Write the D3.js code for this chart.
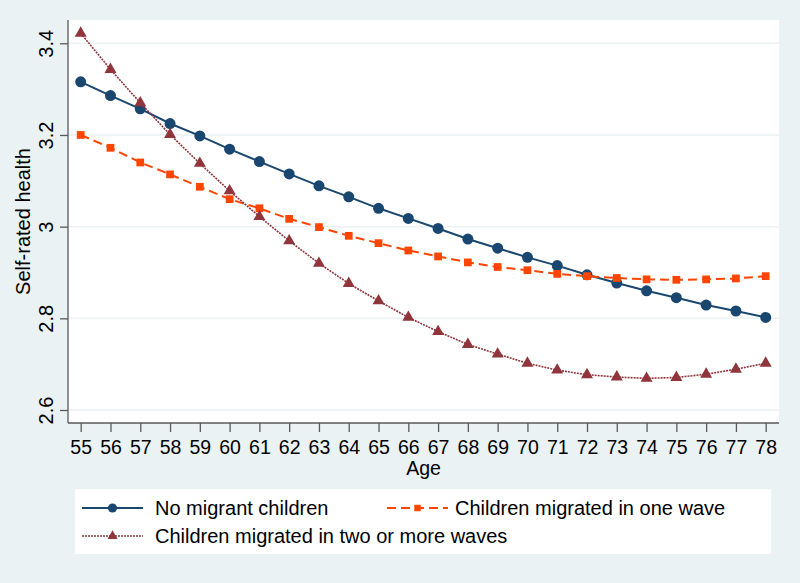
<!DOCTYPE html>
<html>
<head>
<meta charset="utf-8">
<script src="https://cdn.jsdelivr.net/npm/d3@7"></script>
<style>
  html, body { margin: 0; padding: 0; background: #eaf2f3; }
  svg { display: block; font-family: "Liberation Sans", Arial, sans-serif; }
</style>
</head>
<body>
<svg id="chart" width="800" height="583"></svg>
<script>
const ages = [55,56,57,58,59,60,61,62,63,64,65,66,67,68,69,70,71,72,73,74,75,76,77,78];
const noMigrant = [3.316,3.286,3.257,3.225,3.198,3.169,3.142,3.115,3.089,3.065,3.040,3.018,2.996,2.973,2.953,2.933,2.915,2.895,2.877,2.860,2.845,2.829,2.816,2.802];
const oneWave = [3.200,3.172,3.140,3.114,3.087,3.060,3.040,3.017,2.999,2.980,2.964,2.948,2.935,2.922,2.912,2.905,2.897,2.892,2.888,2.885,2.884,2.885,2.887,2.892];
const twoWaves = [3.422,3.343,3.270,3.201,3.138,3.078,3.022,2.969,2.920,2.876,2.838,2.802,2.771,2.743,2.722,2.702,2.687,2.677,2.672,2.669,2.671,2.678,2.689,2.702];
const yTicks = [2.6, 2.8, 3.0, 3.2, 3.4];
const yTickLabels = ["2.6", "2.8", "3", "3.2", "3.4"];
const seriesNames = ["No migrant children", "Children migrated in one wave", "Children migrated in two or more waves"];

const series = [
  {name: seriesNames[0], values: noMigrant, color: "#1a476f", width: 2, dash: null, marker: "circle"},
  {name: seriesNames[1], values: oneWave, color: "#ff4500", width: 2, dash: "9,5", marker: "square"},
  {name: seriesNames[2], values: twoWaves, color: "#90353b", width: 1.6, dash: "2,1", marker: "triangle"}
];

const svg = d3.select("#chart");
const W = 800, H = 583;
svg.append("rect").attr("width", W).attr("height", H).attr("fill", "#eaf2f3");

const plot = {left: 68, right: 779, top: 20, bottom: 423};
svg.append("rect").attr("x", plot.left).attr("y", plot.top)
  .attr("width", plot.right - plot.left).attr("height", plot.bottom - plot.top).attr("fill", "#ffffff");

const x = d3.scaleLinear().domain([55, 78]).range([80.7, 765.7]);
const y = d3.scaleLinear().domain([2.6, 3.4]).range([410, 43.3]);

// gridlines
svg.append("g").selectAll("line").data(yTicks).join("line")
  .attr("x1", plot.left).attr("x2", plot.right)
  .attr("y1", d => y(d)).attr("y2", d => y(d))
  .attr("stroke", "#eaf2f3").attr("stroke-width", 1.5);

// y axis
const yAxis = d3.axisLeft(y).tickValues(yTicks).tickSize(8).tickPadding(6)
  .tickFormat((d, i) => yTickLabels[i]);
const gy = svg.append("g").attr("transform", `translate(${plot.left},0)`).call(yAxis);
gy.select(".domain").attr("d", `M0,${plot.top}V${plot.bottom}`).attr("stroke", "#5a5a5a").attr("stroke-width", 1.3);
gy.selectAll(".tick line").attr("stroke", "#5a5a5a").attr("stroke-width", 1.3);
gy.selectAll(".tick text")
  .attr("font-size", 20).attr("fill", "#000")
  .attr("transform", "rotate(-90)")
  .attr("x", 0).attr("y", -15)
  .attr("dy", 0)
  .attr("text-anchor", "middle");

// x axis
const xAxis = d3.axisBottom(x).tickValues(ages).tickSize(9).tickPadding(4).tickFormat(d3.format("d"));
const gx = svg.append("g").attr("transform", `translate(0,${plot.bottom})`).call(xAxis);
gx.select(".domain").attr("d", `M${plot.left},0H${plot.right}`).attr("stroke", "#5a5a5a").attr("stroke-width", 1.3);
gx.selectAll(".tick line").attr("stroke", "#5a5a5a").attr("stroke-width", 1.3);
gx.selectAll(".tick text").attr("font-size", 19.5).attr("fill", "#000").attr("dy", 0).attr("y", 31);

// axis titles
svg.append("text").attr("transform", `translate(30,${(plot.top + plot.bottom) / 2}) rotate(-90)`)
  .attr("text-anchor", "middle").attr("font-size", 20).attr("fill", "#000").text("Self-rated health");
svg.append("text").attr("x", (plot.left + plot.right) / 2).attr("y", 475)
  .attr("text-anchor", "middle").attr("font-size", 19.5).attr("fill", "#000").text("Age");

// markers
const sym = {circle: d3.symbolCircle, square: d3.symbolSquare, triangle: d3.symbolTriangle};
const symSize = {circle: 95, square: 60, triangle: 62};

const line = d3.line().x((d, i) => x(ages[i])).y(d => y(d));
series.forEach(s => {
  const g = svg.append("g");
  g.append("path").attr("d", line(s.values)).attr("fill", "none")
    .attr("stroke", s.color).attr("stroke-width", s.width)
    .attr("stroke-dasharray", s.dash);
  g.selectAll("path.m").data(s.values).join("path").attr("class", "m")
    .attr("transform", (d, i) => `translate(${x(ages[i])},${y(d)})`)
    .attr("d", d3.symbol().type(sym[s.marker]).size(symSize[s.marker]))
    .attr("fill", s.color);
});

// legend
const leg = svg.append("g");
leg.append("rect").attr("x", 75).attr("y", 489).attr("width", 696).attr("height", 65).attr("fill", "#ffffff");
const legPos = [
  {x1: 82, x2: 143, y: 508, tx: 155},
  {x1: 387, x2: 448, y: 508, tx: 455},
  {x1: 82, x2: 143, y: 536, tx: 155}
];
series.forEach((s, i) => {
  const p = legPos[i];
  leg.append("line").attr("x1", p.x1).attr("x2", p.x2).attr("y1", p.y).attr("y2", p.y)
    .attr("stroke", s.color).attr("stroke-width", s.width).attr("stroke-dasharray", s.dash);
  leg.append("path").attr("transform", `translate(${(p.x1 + p.x2) / 2},${p.y})`)
    .attr("d", d3.symbol().type(sym[s.marker]).size(symSize[s.marker] * 0.7))
    .attr("fill", s.color);
  leg.append("text").attr("x", p.tx).attr("y", p.y + 7).attr("font-size", 20).attr("fill", "#000").text(s.name);
});
</script>
</body>
</html>
